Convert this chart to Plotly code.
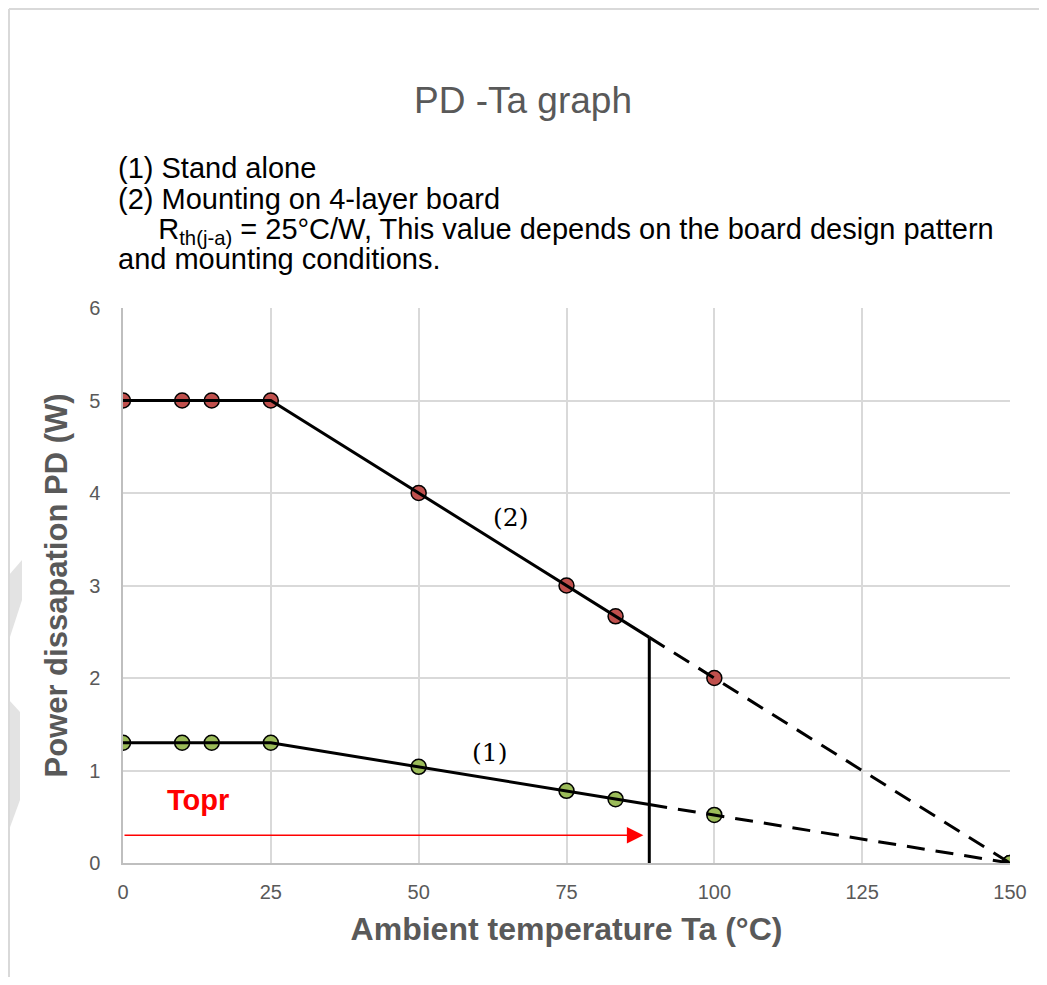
import numpy as np
import plotly.graph_objects as go

# ---- data ----
ta = [0, 10, 15, 25, 50, 75, 83.3, 100, 150]
pd_board = [5, 5, 5, 5, 4, 3, 2.667, 2, 0]                 # (2) 4-layer board
pd_alone = [1.3, 1.3, 1.3, 1.3, 1.04, 0.78, 0.69, 0.52, 0]  # (1) stand alone
topr = 89
x_ticks = [0, 25, 50, 75, 100, 125, 150]
y_ticks = [0, 1, 2, 3, 4, 5, 6]

GRAY = "#595959"
RED = "#C0504D"
GREEN = "#9BBB59"
SANS = "Liberation Sans, Arial"

# page has an 8px body margin; figure is placed at (8, 8)
OFF = 8
W, H = 1047 - 2 * OFF, 985 - 2 * OFF
PL, PR, PT, PB = 123, 1010, 308, 863   # plot area in page pixels


def px(p):
    return (p - PL) / (PR - PL)


def py(p):
    return (PB - p) / (PB - PT)


fig = go.Figure()

# markers (lines drawn over them)
fig.add_trace(go.Scatter(x=ta, y=pd_board, mode="markers",
                         marker=dict(size=15, color=RED, line=dict(color="black", width=1.5)),
                         showlegend=False, hoverinfo="skip"))
fig.add_trace(go.Scatter(x=ta, y=pd_alone, mode="markers",
                         marker=dict(size=15, color=GREEN, line=dict(color="black", width=1.5)),
                         showlegend=False, hoverinfo="skip"))

# lines: solid up to Topr, dashed beyond
for ys in (pd_board, pd_alone):
    y_top = float(np.interp(topr, ta, ys))
    fig.add_trace(go.Scatter(x=[ta[0], ta[3], topr], y=[ys[0], ys[3], y_top], mode="lines",
                             line=dict(color="black", width=3),
                             showlegend=False, hoverinfo="skip"))
    fig.add_trace(go.Scatter(x=[topr, ta[-1]], y=[y_top, ys[-1]], mode="lines",
                             line=dict(color="black", width=3, dash="18px,11px"),
                             showlegend=False, hoverinfo="skip"))

# vertical Topr line
y_v = float(np.interp(topr, ta, pd_board))
fig.add_trace(go.Scatter(x=[topr, topr], y=[0, y_v], mode="lines",
                         line=dict(color="black", width=3),
                         showlegend=False, hoverinfo="skip"))

annotations = [
    dict(x=88, y=0.3, ax=0, ay=0.3, xref="x", yref="y", axref="x", ayref="y",
         showarrow=True, arrowhead=2, arrowsize=2.2, arrowwidth=1.5, arrowcolor="red", text=""),
    dict(x=12.7, y=0.68, xref="x", yref="y", text="<b>Topr</b>", showarrow=False,
         font=dict(family=SANS, size=29, color="red")),
    dict(x=65.5, y=3.74, xref="x", yref="y", text="(2)", showarrow=False,
         font=dict(family="DejaVu Serif, serif", size=25, color="black")),
    dict(x=62, y=1.2, xref="x", yref="y", text="(1)", showarrow=False,
         font=dict(family="DejaVu Serif, serif", size=25, color="black")),
]

text_lines = [
    ("(1) Stand alone", 168),
    ("(2) Mounting on 4-layer board", 199),
    ("\u00a0\u00a0\u00a0\u00a0\u00a0R<sub>th(j-a)</sub> = 25°C/W, This value depends on the board design pattern", 231),
    ("and mounting conditions.", 259),
]
for t, yp in text_lines:
    annotations.append(dict(x=px(116), y=py(yp), xref="paper", yref="paper", text=t,
                            xanchor="left", yanchor="middle", showarrow=False,
                            font=dict(family=SANS, size=29, color="black")))

shapes = [
    dict(type="line", xref="paper", yref="paper", x0=px(9), x1=px(1100), y0=py(9), y1=py(9),
         line=dict(color="#d9d9d9", width=2)),
    dict(type="line", xref="paper", yref="paper", x0=px(9), x1=px(9), y0=py(9), y1=py(1000),
         line=dict(color="#d9d9d9", width=2)),
]

# faint watermark fragments peeking at the left edge
wm = [
    [(9, 575), (22, 560), (22, 600), (9, 640)],
    [(9, 700), (20, 712), (20, 800), (9, 830)],
]
for poly in wm:
    path = "M " + " L ".join(f"{px(a)},{py(b)}" for a, b in poly) + " Z"
    shapes.append(dict(type="path", xref="paper", yref="paper", path=path,
                       fillcolor="#e3e3e3", line=dict(width=0), layer="below"))

fig.update_layout(
    width=W, height=H,
    margin=dict(l=PL - OFF, r=W - (PR - OFF), t=PT - OFF, b=H - (PB - OFF)),
    paper_bgcolor="white", plot_bgcolor="white",
    title=dict(text="PD -Ta graph", x=px(523), xref="paper", xanchor="center",
               y=1 - (100 - OFF) / H, yanchor="middle",
               font=dict(family=SANS, size=37, color=GRAY)),
    annotations=annotations,
    shapes=shapes,
    showlegend=False,
)
fig.update_xaxes(range=[0, 150], tickvals=x_ticks, showgrid=True, gridcolor="#d9d9d9", gridwidth=1.5,
                 zeroline=False, showline=True, linecolor="#bfbfbf", linewidth=1.5,
                 ticklabelstandoff=10,
                 tickfont=dict(family=SANS, size=20, color=GRAY),
                 title=dict(text="<b>Ambient temperature Ta (°C)</b>", standoff=16,
                            font=dict(family=SANS, size=32, color=GRAY)))
fig.update_yaxes(range=[0, 6], tickvals=y_ticks, showgrid=True, gridcolor="#d9d9d9", gridwidth=1.5,
                 zeroline=False, showline=True, linecolor="#bfbfbf", linewidth=1.5,
                 ticklabelstandoff=17,
                 tickfont=dict(family=SANS, size=20, color=GRAY),
                 title=dict(text="<b>Power dissapation PD (W)</b>", standoff=12,
                            font=dict(family=SANS, size=31, color=GRAY)))

fig.write_html("out.html")
